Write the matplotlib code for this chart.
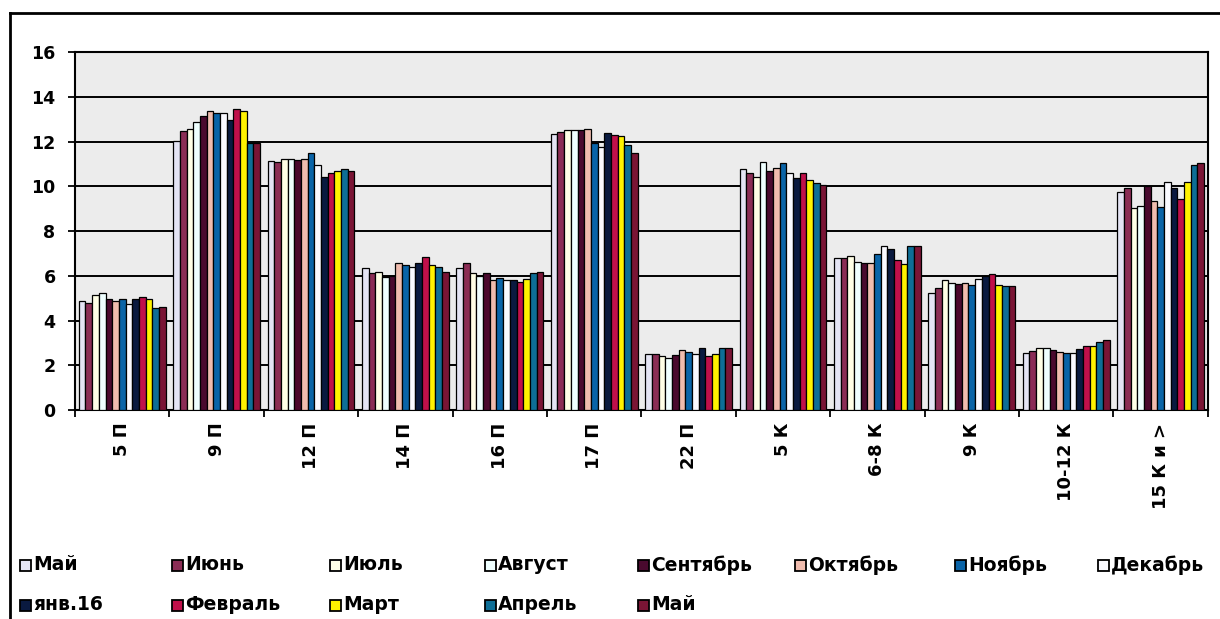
import matplotlib
matplotlib.use('Agg')
import matplotlib.pyplot as plt
import matplotlib.patches as mpatches
from matplotlib.lines import Line2D
import numpy as np

plt.rcParams['font.family'] = ['DejaVu Sans']
plt.rcParams['font.weight'] = 'bold'

# categories along the x axis
categories = ['5 П', '9 П', '12 П', '14 П', '16 П', '17 П', '22 П',
              '5 К', '6-8 К', '9 К', '10-12 К', '15 К и >']

# one series per month
months = ['Май', 'Июнь', 'Июль', 'Август', 'Сентябрь', 'Октябрь', 'Ноябрь',
          'Декабрь', 'янв.16', 'Февраль', 'Март', 'Апрель', 'Май']

may = [4.87, 12.04, 11.13, 6.36, 6.36, 12.33, 2.50, 10.77, 6.78, 5.24, 2.56, 9.76]
jun = [4.80, 12.49, 11.10, 6.14, 6.55, 12.41, 2.50, 10.60, 6.78, 5.44, 2.65, 9.91]
jul = [5.14, 12.56, 11.22, 6.18, 6.11, 12.51, 2.41, 10.43, 6.88, 5.81, 2.76, 9.01]
aug = [5.21, 12.86, 11.22, 5.96, 5.99, 12.51, 2.31, 11.10, 6.63, 5.69, 2.76, 9.12]
sep = [4.95, 13.14, 11.17, 6.00, 6.11, 12.51, 2.46, 10.70, 6.55, 5.63, 2.68, 10.01]
octo = [4.89, 13.36, 11.20, 6.55, 5.81, 12.54, 2.68, 10.80, 6.58, 5.66, 2.61, 9.36]
nov = [4.96, 13.29, 11.50, 6.47, 5.90, 11.92, 2.61, 11.03, 6.97, 5.59, 2.56, 9.06]
dec = [4.72, 13.26, 10.94, 6.41, 5.81, 11.77, 2.50, 10.58, 7.33, 5.84, 2.56, 10.20]
jan16 = [4.96, 12.96, 10.43, 6.55, 5.81, 12.36, 2.79, 10.36, 7.18, 5.99, 2.71, 9.91]
feb = [5.07, 13.45, 10.58, 6.82, 5.74, 12.29, 2.41, 10.58, 6.70, 6.08, 2.86, 9.42]
mar = [4.96, 13.36, 10.70, 6.47, 5.84, 12.25, 2.50, 10.28, 6.52, 5.59, 2.86, 10.20]
apr = [4.54, 11.95, 10.79, 6.38, 6.11, 11.84, 2.79, 10.16, 7.33, 5.54, 3.03, 10.94]
may2 = [4.59, 11.95, 10.70, 6.18, 6.18, 11.50, 2.76, 10.06, 7.33, 5.54, 3.13, 11.03]

series = [may, jun, jul, aug, sep, octo, nov, dec, jan16, feb, mar, apr, may2]

colors = ['#E4E4F4', '#8B2D55', '#FFFFE6', '#EFFFFF', '#4A0A2E', '#F0BCAE',
          '#0A64A8', '#FAFAFF', '#0A1A40', '#C0104A', '#FFF200', '#0E6E96',
          '#7A1535']

fig = plt.figure(figsize=(12.2, 6.19), dpi=100)
ax = fig.add_axes([0.0615, 0.3376, 0.9285, 0.5784])
ax.set_facecolor('#ECECEC')

n = len(series)
w = 0.92 / n
x = np.arange(len(categories)) + 0.5
for j, (vals, c) in enumerate(zip(series, colors)):
    ax.bar(x + (j - (n - 1) / 2) * w, vals, width=w, color=c,
           edgecolor='black', linewidth=0.9, zorder=3)

ax.set_xlim(0, len(categories))
ax.set_ylim(0, 16)
ax.set_yticks(np.arange(0, 17, 2))
ax.yaxis.grid(True, color='black', linewidth=1.4, zorder=1)
ax.set_axisbelow(True)

# group boundaries get the tick marks, group centres get the labels
ax.set_xticks(np.arange(len(categories) + 1))
ax.set_xticklabels([])
ax.set_xticks(x, minor=True)
ax.set_xticklabels(categories, minor=True, rotation=90, va='top', ha='center',
                   fontsize=13, fontweight='bold')
ax.tick_params(axis='x', which='major', length=5, width=1.3, direction='out')
ax.tick_params(axis='x', which='minor', length=0, pad=9)
ax.tick_params(axis='y', length=5, width=1.3, direction='out', labelsize=12.5, pad=9)
for lab in ax.get_yticklabels():
    lab.set_fontweight('bold')
for sp in ax.spines.values():
    sp.set_linewidth(1.5)
    sp.set_color('black')

# outer chart border (top and left sides)
W, H = 1220, 619
fig.add_artist(Line2D([10 / W, 10 / W], [0, 1 - 13 / H], color='black',
                      linewidth=2, transform=fig.transFigure))
fig.add_artist(Line2D([10 / W, 1], [1 - 13 / H, 1 - 13 / H], color='black',
                      linewidth=2, transform=fig.transFigure))

# legend laid out in two rows
col_x = [20, 172, 330, 485, 638, 795, 955, 1098]
row_y = [565, 605]
for k, (name, c) in enumerate(zip(months, colors)):
    r, col = divmod(k, 8)
    px, py = col_x[col], row_y[r]
    fig.add_artist(mpatches.Rectangle((px / W, 1 - (py + 6) / H), 11 / W, 11 / H,
                                      facecolor=c, edgecolor='black', linewidth=1.3,
                                      transform=fig.transFigure))
    fig.text((px + 13) / W, 1 - py / H, name, fontsize=13.5, fontweight='bold',
             va='center', ha='left')

fig.savefig('out.png', dpi=100)
